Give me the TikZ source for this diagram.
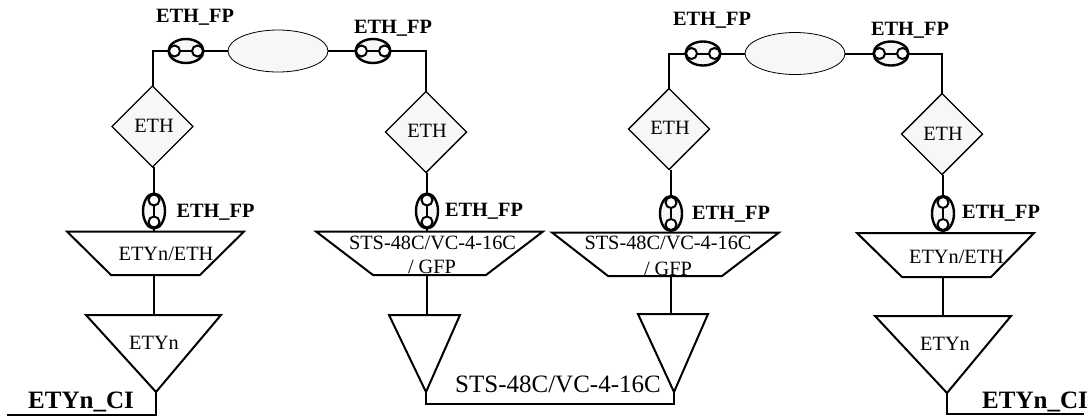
\documentclass[tikz,border=0pt]{standalone}
\usepackage{fontspec}
\setmainfont{Liberation Serif}
\usetikzlibrary{shapes.geometric}
\definecolor{soft}{HTML}{F7F7F7}
\tikzset{
  x=1pt,y=-1pt,
  wire/.style={draw=black,line width=2pt,line cap=butt,line join=miter},
  outline/.style={draw=black,line width=2pt,line join=miter},
  dia/.style={diamond,draw=black,fill=soft,line width=1.4pt,minimum width=81pt,minimum height=81pt,inner sep=0pt,outer sep=0pt,aspect=1},
  cloud oval/.style={ellipse,draw=black,fill=soft,line width=.8pt,minimum width=100pt,minimum height=42pt,inner sep=0pt,outer sep=0pt},
  fpouter/.style={ellipse,draw=black,fill=soft,line width=2.4pt,inner sep=0pt,outer sep=0pt},
  fpdot/.style={circle,draw=black,fill=white,line width=2pt,minimum size=11pt,inner sep=0pt,outer sep=0pt},
  lab/.style={inner sep=0pt,outer sep=0pt,text height=13pt,text depth=0pt,font=\fontsize{20.3}{20.3}\selectfont},
  blab/.style={inner sep=0pt,outer sep=0pt,text height=13pt,text depth=0pt,font=\bfseries\fontsize{20.3}{20.3}\selectfont},
  cilab/.style={inner sep=0pt,outer sep=0pt,text height=16pt,text depth=0pt,font=\bfseries\fontsize{25}{25}\selectfont},
  buslab/.style={inner sep=0pt,outer sep=0pt,text height=15pt,text depth=0pt,font=\fontsize{25}{25}\selectfont},
}
% name, x, y : horizontal port
\newcommand\fphoriz[3]{%
  \node[fpouter,minimum width=35pt,minimum height=24pt] (#1) at (#2,#3) {};
  \node[fpdot] (#1a) at ([xshift=-11.5pt]#1.center) {};
  \node[fpdot] (#1b) at ([xshift=11.5pt]#1.center) {};
  \draw[wire] (#1a) -- (#1b);}
% name, x, y : vertical port
\newcommand\fpvert[3]{%
  \node[fpouter,minimum width=22pt,minimum height=35pt] (#1) at (#2,#3) {};
  \node[fpdot] (#1a) at ([yshift=-11pt]#1.center) {};
  \node[fpdot] (#1b) at ([yshift=11pt]#1.center) {};
  \draw[wire] (#1a) -- (#1b);}
% name, top y, top xl, top xr, bottom y, bottom xl, bottom xr
\newcommand\trapez[7]{%
  \coordinate (#1tl) at (#3,#2); \coordinate (#1tr) at (#4,#2);
  \coordinate (#1bl) at (#6,#5); \coordinate (#1br) at (#7,#5);
  \draw[outline] (#1tl) -- (#1tr) -- (#1br) -- (#1bl) -- cycle;}
% name, top y, xl, xr, apex x, apex y
\newcommand\tridown[6]{%
  \coordinate (#1tl) at (#3,#2); \coordinate (#1tr) at (#4,#2);
  \coordinate (#1ap) at (#5,#6);
  \draw[outline] (#1tl) -- (#1tr) -- (#1ap) -- cycle;}
\begin{document}
\begin{tikzpicture}
\useasboundingbox[fill=white] (0,0) rectangle (1090,416);

% upper row
\node[cloud oval] (e1) at (278,51) {};
\node[cloud oval] (e2) at (795,53.5) {};
\node[dia] (d1) at (152.5,126.5) {};
\node[dia] (d2) at (426,132) {};
\node[dia] (d3) at (669,129) {};
\node[dia] (d4) at (942,134) {};
\node[lab] (d1t) at (154,126) {ETH};
\node[lab] (d2t) at (427,131) {ETH};
\node[lab] (d3t) at (670,128) {ETH};
\node[lab] (d4t) at (943,134) {ETH};

\fphoriz{fa}{186}{51}
\fphoriz{fb}{373}{51}
\fphoriz{fc}{703}{53.5}
\fphoriz{fd}{891}{53.5}
\fpvert{va}{154}{211}
\fpvert{vb}{427}{211}
\fpvert{vc}{671}{213.5}
\fpvert{vd}{943}{213.5}

\draw[wire] (d1.north) |- (fa.west);
\draw[wire] (fa.east) -- (e1.west);
\draw[wire] (e1.east) -- (fb.west);
\draw[wire] (fb.east) -| (d2.north);
\draw[wire] (d3.north) |- (fc.west);
\draw[wire] (fc.east) -- (e2.west);
\draw[wire] (e2.east) -- (fd.west);
\draw[wire] (fd.east) -| (d4.north);
\foreach \dd/\vv in {d1/va,d2/vb,d3/vc,d4/vd}
  \draw[wire] (\vv.north) -- (\vv.north |- \dd.south);

% adaptation trapezoids
\trapez{ta}{231.5}{67}{244}{275}{111}{200}
\trapez{tb}{231.5}{316}{543}{275}{373}{486}
\trapez{tc}{232.5}{552}{779}{276}{608}{722}
\trapez{td}{233}{857}{1034}{277}{902}{991}
\foreach \vv/\tt in {va/ta,vb/tb,vc/tc,vd/td}
  \draw[wire] (\vv.south) -- (\vv.south |- \tt tl);

\node[lab] (tat) at (166,254) {ETYn/ETH};
\node[lab] (tbt) at (432.5,243) {STS-48C/VC-4-16C};
\node[lab] (tbu) at (432,267) {/ GFP};
\node[lab] (tct) at (668,243) {STS-48C/VC-4-16C};
\node[lab] (tcu) at (668,269) {/ GFP};
\node[lab] (tdt) at (956.5,257) {ETYn/ETH};

% termination triangles
\tridown{ra}{315}{86}{221}{156}{392}
\tridown{rb}{315}{389}{460}{426}{392}
\tridown{rc}{314}{638}{708}{674}{392}
\tridown{rd}{316}{875}{1011}{947}{393}
\foreach \vv/\tt/\rr in {va/ta/ra,vb/tb/rb,vc/tc/rc,vd/td/rd}
  \draw[wire] (\vv.south |- \tt bl) -- (\vv.south |- \rr tl);

\node[lab] (rat) at (154,343) {ETYn};
\node[lab] (rdt) at (945,344) {ETYn};

% bottom connections
\coordinate (cil) at (7,415);
\coordinate (cir) at (1084,414);
\coordinate (bus) at (550,404);
\draw[wire] (raap) |- (cil);
\draw[wire] (rdap) |- (cir);
\draw[wire] (rbap) -- (rbap |- bus) -- (rcap |- bus) -- (rcap);

% labels
\node[blab] (l1) at (195,16) {ETH\_FP};
\node[blab] (l2) at (393,27) {ETH\_FP};
\node[blab] (l3) at (712,19) {ETH\_FP};
\node[blab] (l4) at (910,29) {ETH\_FP};
\node[blab] (l5) at (215.5,211) {ETH\_FP};
\node[blab] (l6) at (484,210) {ETH\_FP};
\node[blab] (l7) at (731,213) {ETH\_FP};
\node[blab] (l8) at (1001,212) {ETH\_FP};
\node[cilab] (c1) at (81,400) {ETYn\_CI};
\node[cilab] (c2) at (1035,400) {ETYn\_CI};
\node[buslab] (bl) at (558,385) {STS-48C/VC-4-16C};
\end{tikzpicture}
\end{document}
